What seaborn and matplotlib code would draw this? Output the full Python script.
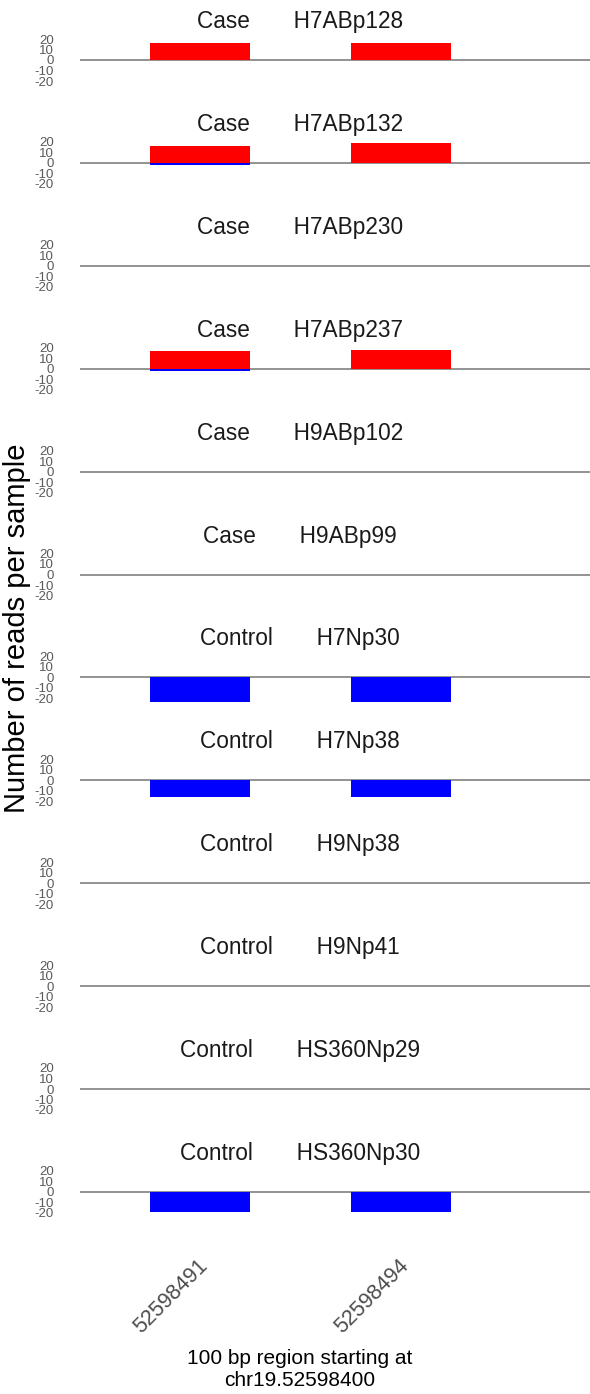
import matplotlib
matplotlib.use("Agg")
import matplotlib.pyplot as plt
import matplotlib.transforms as mtransforms
import numpy as np
import pandas as pd
import seaborn as sns

# ---- data -------------------------------------------------------------
samples = ["H7ABp128", "H7ABp132", "H7ABp230", "H7ABp237", "H9ABp102", "H9ABp99",
           "H7Np30", "H7Np38", "H9Np38", "H9Np41", "HS360Np29", "HS360Np30"]
groups = ["Case"] * 6 + ["Control"] * 6
positions = ["52598491", "52598494"]

# reads on the forward strand (drawn upwards) at each position
forward_reads = [
    [16.5, 16.5],
    [16.0, 18.5],
    [0, 0],
    [17.0, 17.5],
    [0, 0],
    [0, 0],
    [0, 0],
    [0, 0],
    [0, 0],
    [0, 0],
    [0, 0],
    [0, 0],
]
# reads on the reverse strand (drawn downwards) at each position
reverse_reads = [
    [0, 0],
    [-2.0, 0],
    [0, 0],
    [-2.0, 0],
    [0, 0],
    [0, 0],
    [-23.0, -23.0],
    [-16.0, -16.0],
    [0, 0],
    [0, 0],
    [0, 0],
    [-19.0, -19.0],
]
y_ticks = [20, 10, 0, -10, -20]

rows = []
for s, g, fw, rv in zip(samples, groups, forward_reads, reverse_reads):
    for p, f, r in zip(positions, fw, rv):
        rows.append(dict(sample=s, group=g, position=p, strand="+", reads=f))
        rows.append(dict(sample=s, group=g, position=p, strand="-", reads=r))
df = pd.DataFrame(rows)

# ---- figure -----------------------------------------------------------
sns.set_theme(style="white")
plt.rcParams["font.family"] = ["Liberation Sans", "DejaVu Sans"]

W, H, DPI = 590, 1394, 100
fig = plt.figure(figsize=(W / DPI, H / DPI), dpi=DPI)

left_px, right_px = 80, 590
first_zero, step = 60.0, 102.9
y_lim = 25
px_per_unit = 1.05
ax_h = 2 * y_lim * px_per_unit

palette = {"+": "#FF0000", "-": "#0000FF"}

axes = []
for i, s in enumerate(samples):
    zero_px = first_zero + step * i
    bottom_px = zero_px + ax_h / 2
    ax = fig.add_axes([left_px / W, 1 - bottom_px / H,
                       (right_px - left_px) / W, ax_h / H])
    ax.axhline(0, color="#808080", lw=1.2, zorder=0.5)
    sub = df[df["sample"] == s]
    sns.barplot(data=sub, x="position", y="reads", hue="strand", order=positions,
                hue_order=["+", "-"], palette=palette, dodge=False, width=0.5,
                errorbar=None, legend=False, ax=ax, linewidth=0, saturation=1)
    for bar in ax.patches:
        bar.set_zorder(2)
    ax.set_xlim(-0.597, 1.94)
    ax.set_ylim(-y_lim, y_lim)
    ax.set_yticks(y_ticks)
    ax.set_yticklabels([str(t) for t in y_ticks], fontsize=9.5, color="#5a5a5a")
    ax.tick_params(axis="y", length=0, pad=19)
    for sp in ax.spines.values():
        sp.set_visible(False)
    ax.set_xlabel("")
    ax.set_ylabel("")
    ax.patch.set_alpha(0)

    trans = mtransforms.offset_copy(ax.get_yaxis_transform(), fig=fig,
                                    x=0, y=32 * 72 / DPI, units="points")
    ax.text((300 - left_px) / (right_px - left_px), 0,
            f"{groups[i]}       {s}", transform=trans, ha="center",
            va="baseline", fontsize=16.3, color="#1a1a1a")

    if i < len(samples) - 1:
        ax.set_xticks([])
    else:
        ax.set_xticks(range(len(positions)))
        ax.set_xticklabels(positions, rotation=45, ha="right", va="center",
                           rotation_mode="anchor", fontsize=15.5, color="#4d4d4d")
        ax.tick_params(axis="x", length=0, pad=30)
        shift = mtransforms.ScaledTranslation(5 / DPI, -3 / DPI, fig.dpi_scale_trans)
        for lbl in ax.get_xticklabels():
            lbl.set_transform(lbl.get_transform() + shift)
    axes.append(ax)

fig.text(17 / W, 1 - 628 / H, "Number of reads per sample", rotation=90,
         ha="center", va="center", fontsize=21, color="black")
fig.text(300 / W, 1 - 1370 / H, "100 bp region starting at\nchr19.52598400",
         ha="center", va="center", fontsize=15, color="black", linespacing=1.2)

fig.savefig("out.png", dpi=DPI)
